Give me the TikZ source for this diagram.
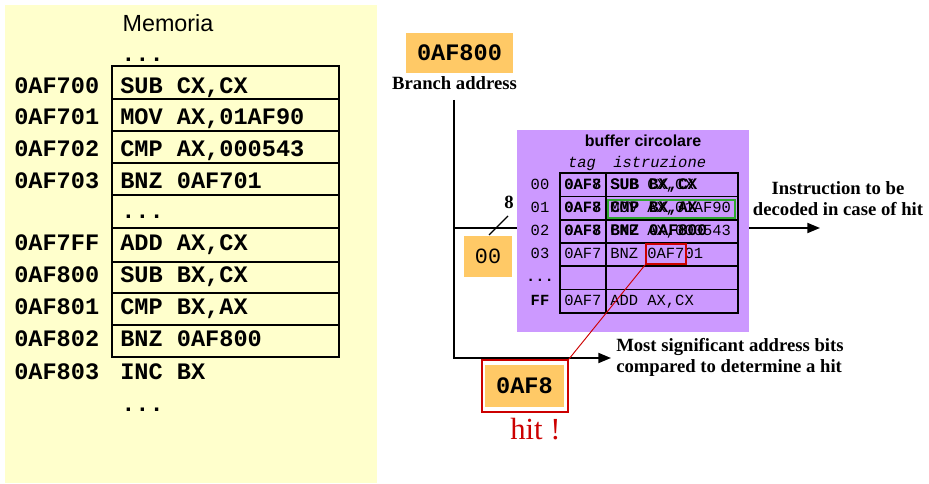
\documentclass[tikz,border=0pt]{standalone}
\usepackage{fontspec}
\setmainfont{Liberation Serif}
\setsansfont{Liberation Sans}
\setmonofont{Liberation Mono}
\usetikzlibrary{arrows.meta,fit}

\definecolor{panel}{HTML}{FFFFCC}
\definecolor{addr}{HTML}{FFC966}
\definecolor{buf}{HTML}{CC99FF}
\definecolor{hitred}{HTML}{CC0000}
\definecolor{okgreen}{HTML}{30A830}

\tikzset{
  memtxt/.style={font=\ttfamily\bfseries\fontsize{17.7}{20}\selectfont, inner sep=0, anchor=base west},
  memcell/.style={draw=black, line width=1.5pt},
  bigaddr/.style={font=\ttfamily\bfseries\fontsize{17.7}{20}\selectfont, inner sep=0},
  orangebox/.style={fill=addr, inner sep=0},
  cellfont/.style={font=\ttfamily\fontsize{11.6}{13}\selectfont, inner sep=0, anchor=base west},
  cellbold/.style={font=\ttfamily\bfseries\fontsize{11.6}{13}\selectfont, inner sep=0, anchor=base west},
  cellnew/.style={font=\ttfamily\bfseries\fontsize{12.1}{13}\selectfont, inner sep=0, anchor=base west},
  bufcell/.style={draw=black, line width=1.1pt},
  note/.style={font=\bfseries\fontsize{14}{15.8}\selectfont, inner sep=0, align=center},
  wire/.style={line width=1.4pt, draw=black},
  wirearrow/.style={wire, -{Triangle[length=9.5pt, width=7.5pt]}},
}

\begin{document}
\begin{tikzpicture}[x=0.75pt, y=-0.75pt]
\useasboundingbox (0,0) rectangle (929,484);

% ---------------- memory panel ----------------
\node[fill=panel, inner sep=0, fit={(5,5) (377,483)}] (mempanel) {};
\node[font=\sffamily\fontsize{17.5}{20}\selectfont, inner sep=0, anchor=base] (memtitle) at (168,32) {Memoria};
\node[memtxt] (dotstop) at (121,62) {...};

\foreach \t/\b in {66/99, 99/131, 131/163, 163/195, 195/228, 228/262, 262/293, 293/325, 325/357}
  \draw[memcell] (112,\t) rectangle (339,\b);

\foreach \bl/\ad/\ins [count=\i] in {
  94/0AF700/{SUB CX,CX},
  125/0AF701/{MOV AX,01AF90},
  157/0AF702/{CMP AX,000543},
  189/0AF703/{BNZ 0AF701},
  251/0AF7FF/{ADD AX,CX},
  283/0AF800/{SUB BX,CX},
  315/0AF801/{CMP BX,AX},
  347/0AF802/{BNZ 0AF800},
  380/0AF803/{INC BX}}
{
  \node[memtxt] (ad\i) at (14,\bl) {\ad};
  \node[memtxt] (in\i) at (120,\bl) {\ins};
}
\node[memtxt] (dotsmid) at (121,219) {...};
\node[memtxt] (dotsend) at (121,412) {...};

% ---------------- branch address ----------------
\node[orangebox, fit={(406,33) (513,73)}] (brbox) {};
\node[bigaddr] (brtxt) at (brbox.center) {0AF800};
\node[note, anchor=base] (brlabel) at (454.5,90) {Branch address};

\coordinate (wtop) at (454,100);
\coordinate (wjunc) at (454,228);
\coordinate (wcorner) at (454,358);

% ---------------- circular buffer ----------------
\node[fill=buf, inner sep=0, fit={(517,130) (749,332)}] (buffer) {};
\node[font=\sffamily\bfseries\fontsize{12}{14}\selectfont, inner sep=0, anchor=base] (buftitle) at (643,147) {buffer circolare};
\node[font=\ttfamily\itshape\fontsize{11.6}{13}\selectfont, inner sep=0, anchor=base] (taghead) at (582,168) {tag};
\node[font=\ttfamily\itshape\fontsize{11.6}{13}\selectfont, inner sep=0, anchor=base west] (insthead) at (613,168) {istruzione};

\foreach \t/\b in {173/196.5, 196.5/220, 220/243, 243/266, 266/289.5, 289.5/313}
{
  \draw[bufcell] (560,\t) rectangle (606,\b);
  \draw[bufcell] (606,\t) rectangle (738,\b);
}

% row indices
\node[cellfont, anchor=base] (r0) at (540,189.5) {00};
\node[cellfont, anchor=base] (r1) at (540,213) {01};
\node[cellfont, anchor=base] (r2) at (540,236) {02};
\node[cellfont, anchor=base] (r3) at (540,259) {03};
\node[cellbold, anchor=base] (r4) at (540,282) {...};
\node[cellbold, anchor=base] (r5) at (540,305.5) {FF};

% entries: previous content with the newly loaded one written over it
\foreach \bl/\oldtag/\oldins/\newins [count=\i] in {
  189.5/0AF7/{SUB CX,CX}/{SUB BX,CX},
  213/0AF7/{MOV AX,01AF90}/{CMP BX,AX},
  236/0AF7/{CMP AX,000543}/{BNZ 0AF800}}
{
  \node[cellfont] (ot\i) at (564,\bl) {\oldtag};
  \node[cellbold] (nt\i) at (564,\bl) {0AF8};
  \node[cellfont] (oi\i) at (610,\bl) {\oldins};
  \node[cellnew] (ni\i) at (610,\bl) {\newins};
}
\node[cellfont] (t3) at (564,259) {0AF7};
\node[cellfont] (i3) at (610,259) {BNZ 0AF701};
\node[cellfont] (t5) at (564,305.5) {0AF7};
\node[cellfont] (i5) at (610,305.5) {ADD AX,CX};

\node[draw=okgreen, line width=1.2pt, inner sep=0, fit={(608,200) (735,218)}] (greenbox) {};
\node[draw=hitred, line width=1.2pt, inner sep=0, fit={(646,244) (686,264)}] (tagbox) {};

% ---------------- index field ----------------
\node[orangebox, fit={(464,236) (512,277)}] (idxbox) {};
\node[font=\ttfamily\fontsize{16.3}{18}\selectfont, inner sep=0] (idxtxt) at (idxbox.center) {00};
\coordinate (slashlo) at (489,235);
\coordinate (slashhi) at (508,216);
\draw[line width=0.8pt] (slashlo) -- (slashhi);
\node[note, anchor=base] (width8) at (509,209) {8};

% ---------------- tag compare ----------------
\node[draw=hitred, line width=1.2pt, inner sep=0, fit={(482,360) (568,412)}] (hitframe) {};
\node[orangebox, fit={(485,365) (564,407)}] (tagfield) {};
\node[bigaddr] (tagtxt) at (tagfield.center) {0AF8};
\node[font=\fontsize{23}{26}\selectfont, text=hitred, inner sep=0, anchor=base west] (hitlbl) at (510,440) {hit !};

% ---------------- outputs ----------------
\coordinate (outend) at (820,228);
\coordinate (cmpend) at (611,358);
\node[note, anchor=base] (outlbl) at (838,216) {Instruction to be\\decoded in case of hit};
\node[note, anchor=base west, align=left] (cmplbl) at (616,373) {Most significant address bits\\compared to determine a hit};

% ---------------- wires ----------------
\draw[wire] (wjunc) -- (buffer.west |- wjunc);
\draw[wirearrow] (wtop) -- (wcorner) -- (cmpend);
\draw[wirearrow] (buffer.east |- wjunc) -- (outend);
\draw[hitred, line width=0.7pt] (hitframe.north east) -- (tagbox.south west);
\end{tikzpicture}
\end{document}
